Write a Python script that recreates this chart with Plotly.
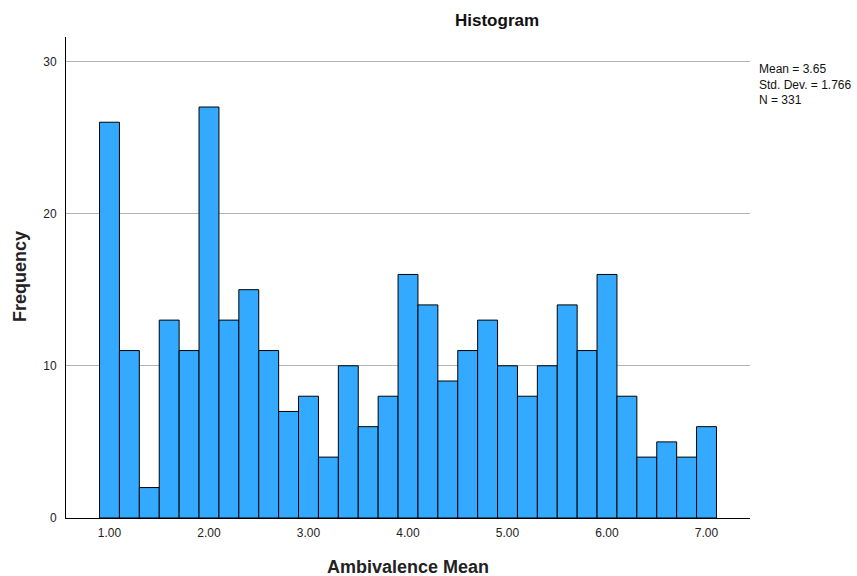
import plotly.graph_objects as go

bin_centers = [round(1.0 + 0.2 * i, 2) for i in range(31)]
frequencies = [26, 11, 2, 13, 11, 27, 13, 15, 11, 7, 8, 4, 10, 6, 8, 16,
               14, 9, 11, 13, 10, 8, 10, 14, 11, 16, 8, 4, 5, 4, 6]
x_ticks = [1, 2, 3, 4, 5, 6, 7]
x_tick_labels = ["1.00", "2.00", "3.00", "4.00", "5.00", "6.00", "7.00"]
y_ticks = [0, 10, 20, 30]
stats_lines = ["Mean = 3.65", "Std. Dev. = 1.766", "N = 331"]

font = "Liberation Sans, Arial, sans-serif"
L, R, T, B = 66, 750, 37, 518
W, H = 857, 576


def px(xp):
    return (xp - L) / (R - L)


def py(yp):
    return (B - yp) / (B - T)


fig = go.Figure()
fig.add_trace(go.Bar(
    x=bin_centers, y=frequencies, width=0.2,
    marker=dict(color="#33aaff", line=dict(color="black", width=1)),
    hoverinfo="x+y",
))

fig.update_layout(
    width=W, height=H,
    margin=dict(l=L, r=W - R, t=T, b=H - B, autoexpand=False),
    paper_bgcolor="white", plot_bgcolor="white",
    showlegend=False,
    font=dict(family=font, size=12, color="#222222"),
    xaxis=dict(
        range=[0.563, 7.437], tickvals=x_ticks, ticktext=x_tick_labels,
        showgrid=False, zeroline=False, showline=True, linecolor="black",
        linewidth=1, ticks="outside", ticklen=4, tickcolor="rgba(0,0,0,0)",
        automargin=False,
    ),
    yaxis=dict(
        range=[0, 31.6], tickvals=y_ticks, showgrid=True, gridcolor="#b4b4b4",
        gridwidth=1, zeroline=False, showline=True, linecolor="black",
        linewidth=1, ticks="outside", ticklen=6, tickcolor="rgba(0,0,0,0)",
        automargin=False,
    ),
    annotations=[
        dict(text="<b>Histogram</b>", x=px(497), y=py(20), xref="paper", yref="paper",
             xanchor="center", yanchor="middle", showarrow=False,
             font=dict(size=17, color="#111111")),
        dict(text="<b>Ambivalence Mean</b>", x=px(408), y=py(567), xref="paper", yref="paper",
             xanchor="center", yanchor="middle", showarrow=False,
             font=dict(size=18, color="#222222")),
        dict(text="<b>Frequency</b>", x=px(20), y=py(277), xref="paper", yref="paper",
             xanchor="center", yanchor="middle", showarrow=False, textangle=-90,
             font=dict(size=18, color="#222222")),
        dict(text="<br>".join(stats_lines), x=px(757), y=py(60), xref="paper", yref="paper",
             xanchor="left", yanchor="top", align="left", showarrow=False,
             font=dict(size=12, color="#111111")),
    ],
)
fig.write_html("out.html", config={"displayModeBar": False},
               post_script="document.body.style.margin='0';document.body.style.overflow='hidden';")
